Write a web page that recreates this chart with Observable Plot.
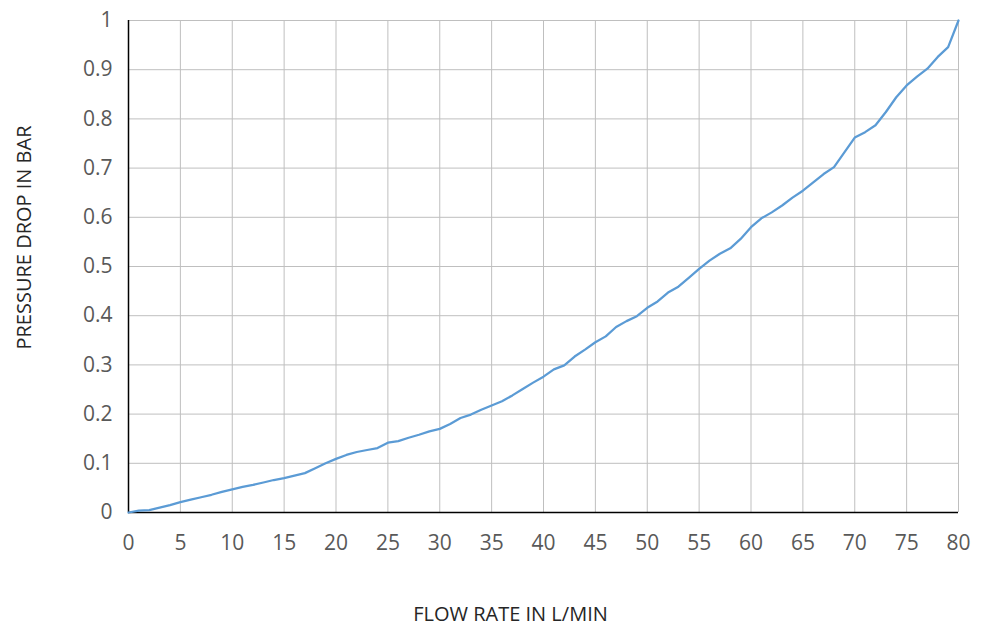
<!DOCTYPE html>
<html>
<head>
<meta charset="utf-8">
<script src="https://cdn.jsdelivr.net/npm/d3@7"></script>
<script src="https://cdn.jsdelivr.net/npm/@observablehq/plot@0.6"></script>
<style>
  html, body { margin: 0; padding: 0; background: #fff; }
  #chart svg { display: block; }
</style>
</head>
<body>
<div id="chart"></div>
<script>
const flowRate = [0,1,2,3,4,5,6,7,8,9,10,11,12,13,14,15,16,17,18,19,20,
  21,22,23,24,25,26,27,28,29,30,31,32,33,34,35,36,37,38,39,40,
  41,42,43,44,45,46,47,48,49,50,51,52,53,54,55,56,57,58,59,60,
  61,62,63,64,65,66,67,68,69,70,71,72,73,74,75,76,77,78,79,80];
const pressureDrop = [0,0.004,0.005,0.010,0.015,0.021,0.026,0.031,0.036,0.042,0.047,
  0.052,0.056,0.061,0.066,0.070,0.075,0.080,0.090,0.100,0.109,
  0.117,0.123,0.127,0.131,0.142,0.145,0.152,0.158,0.165,0.170,
  0.180,0.192,0.199,0.209,0.2175,0.226,0.238,0.251,0.264,0.276,
  0.291,0.299,0.317,0.331,0.346,0.358,0.377,0.389,0.399,0.416,
  0.429,0.447,0.459,0.477,0.495,0.512,0.526,0.537,0.556,0.580,
  0.598,0.610,0.624,0.640,0.654,0.671,0.688,0.702,0.732,0.762,
  0.773,0.787,0.814,0.844,0.868,0.886,0.902,0.926,0.946,1.0];
const xTicks = [0,5,10,15,20,25,30,35,40,45,50,55,60,65,70,75,80];
const yTicks = [0,0.1,0.2,0.3,0.4,0.5,0.6,0.7,0.8,0.9,1];
const xTitle = "FLOW RATE IN L/MIN";
const yTitle = "PRESSURE DROP IN BAR";

const data = flowRate.map((f, i) => ({flow: f, drop: pressureDrop[i]}));
const fmt = d3.format("~g");

const chart = Plot.plot({
  width: 984,
  height: 626,
  marginLeft: 128,
  marginRight: 26,
  marginTop: 20,
  marginBottom: 114,
  style: {fontFamily: "'Open Sans', 'Noto Sans', sans-serif", fontSize: "21px", color: "#595959", background: "#fff"},
  x: {domain: [0, 80], ticks: xTicks},
  y: {domain: [0, 1], ticks: yTicks},
  marks: [
    Plot.gridX(xTicks.filter(d => d > 0), {stroke: "#bfbfbf", strokeOpacity: 1, strokeWidth: 1}),
    Plot.gridY(yTicks.filter(d => d > 0), {stroke: "#bfbfbf", strokeOpacity: 1, strokeWidth: 1}),
    Plot.axisX(xTicks, {tickSize: 0, tickPadding: 23, tickFormat: fmt, label: null, fontSize: 21, fill: "#595959"}),
    Plot.axisY(yTicks, {tickSize: 0, tickPadding: 16, tickFormat: fmt, label: null, fontSize: 21, fill: "#595959"}),
    Plot.ruleY([0], {stroke: "#000", strokeWidth: 1.5}),
    Plot.ruleX([0], {stroke: "#000", strokeWidth: 1.5}),
    Plot.line(data, {x: "flow", y: "drop", stroke: "#5b9bd5", strokeWidth: 2.25}),
    Plot.text([xTitle], {text: d => d, frameAnchor: "bottom", textAnchor: "middle", dx: -33, dy: 102, lineAnchor: "middle", fontSize: 20, fill: "#262626"}),
    Plot.text([yTitle], {text: d => d, frameAnchor: "left", textAnchor: "middle", rotate: -90, dx: -104, dy: -29, lineAnchor: "middle", fontSize: 20, fill: "#262626"})
  ]
});
document.getElementById("chart").appendChild(chart);
</script>
</body>
</html>
